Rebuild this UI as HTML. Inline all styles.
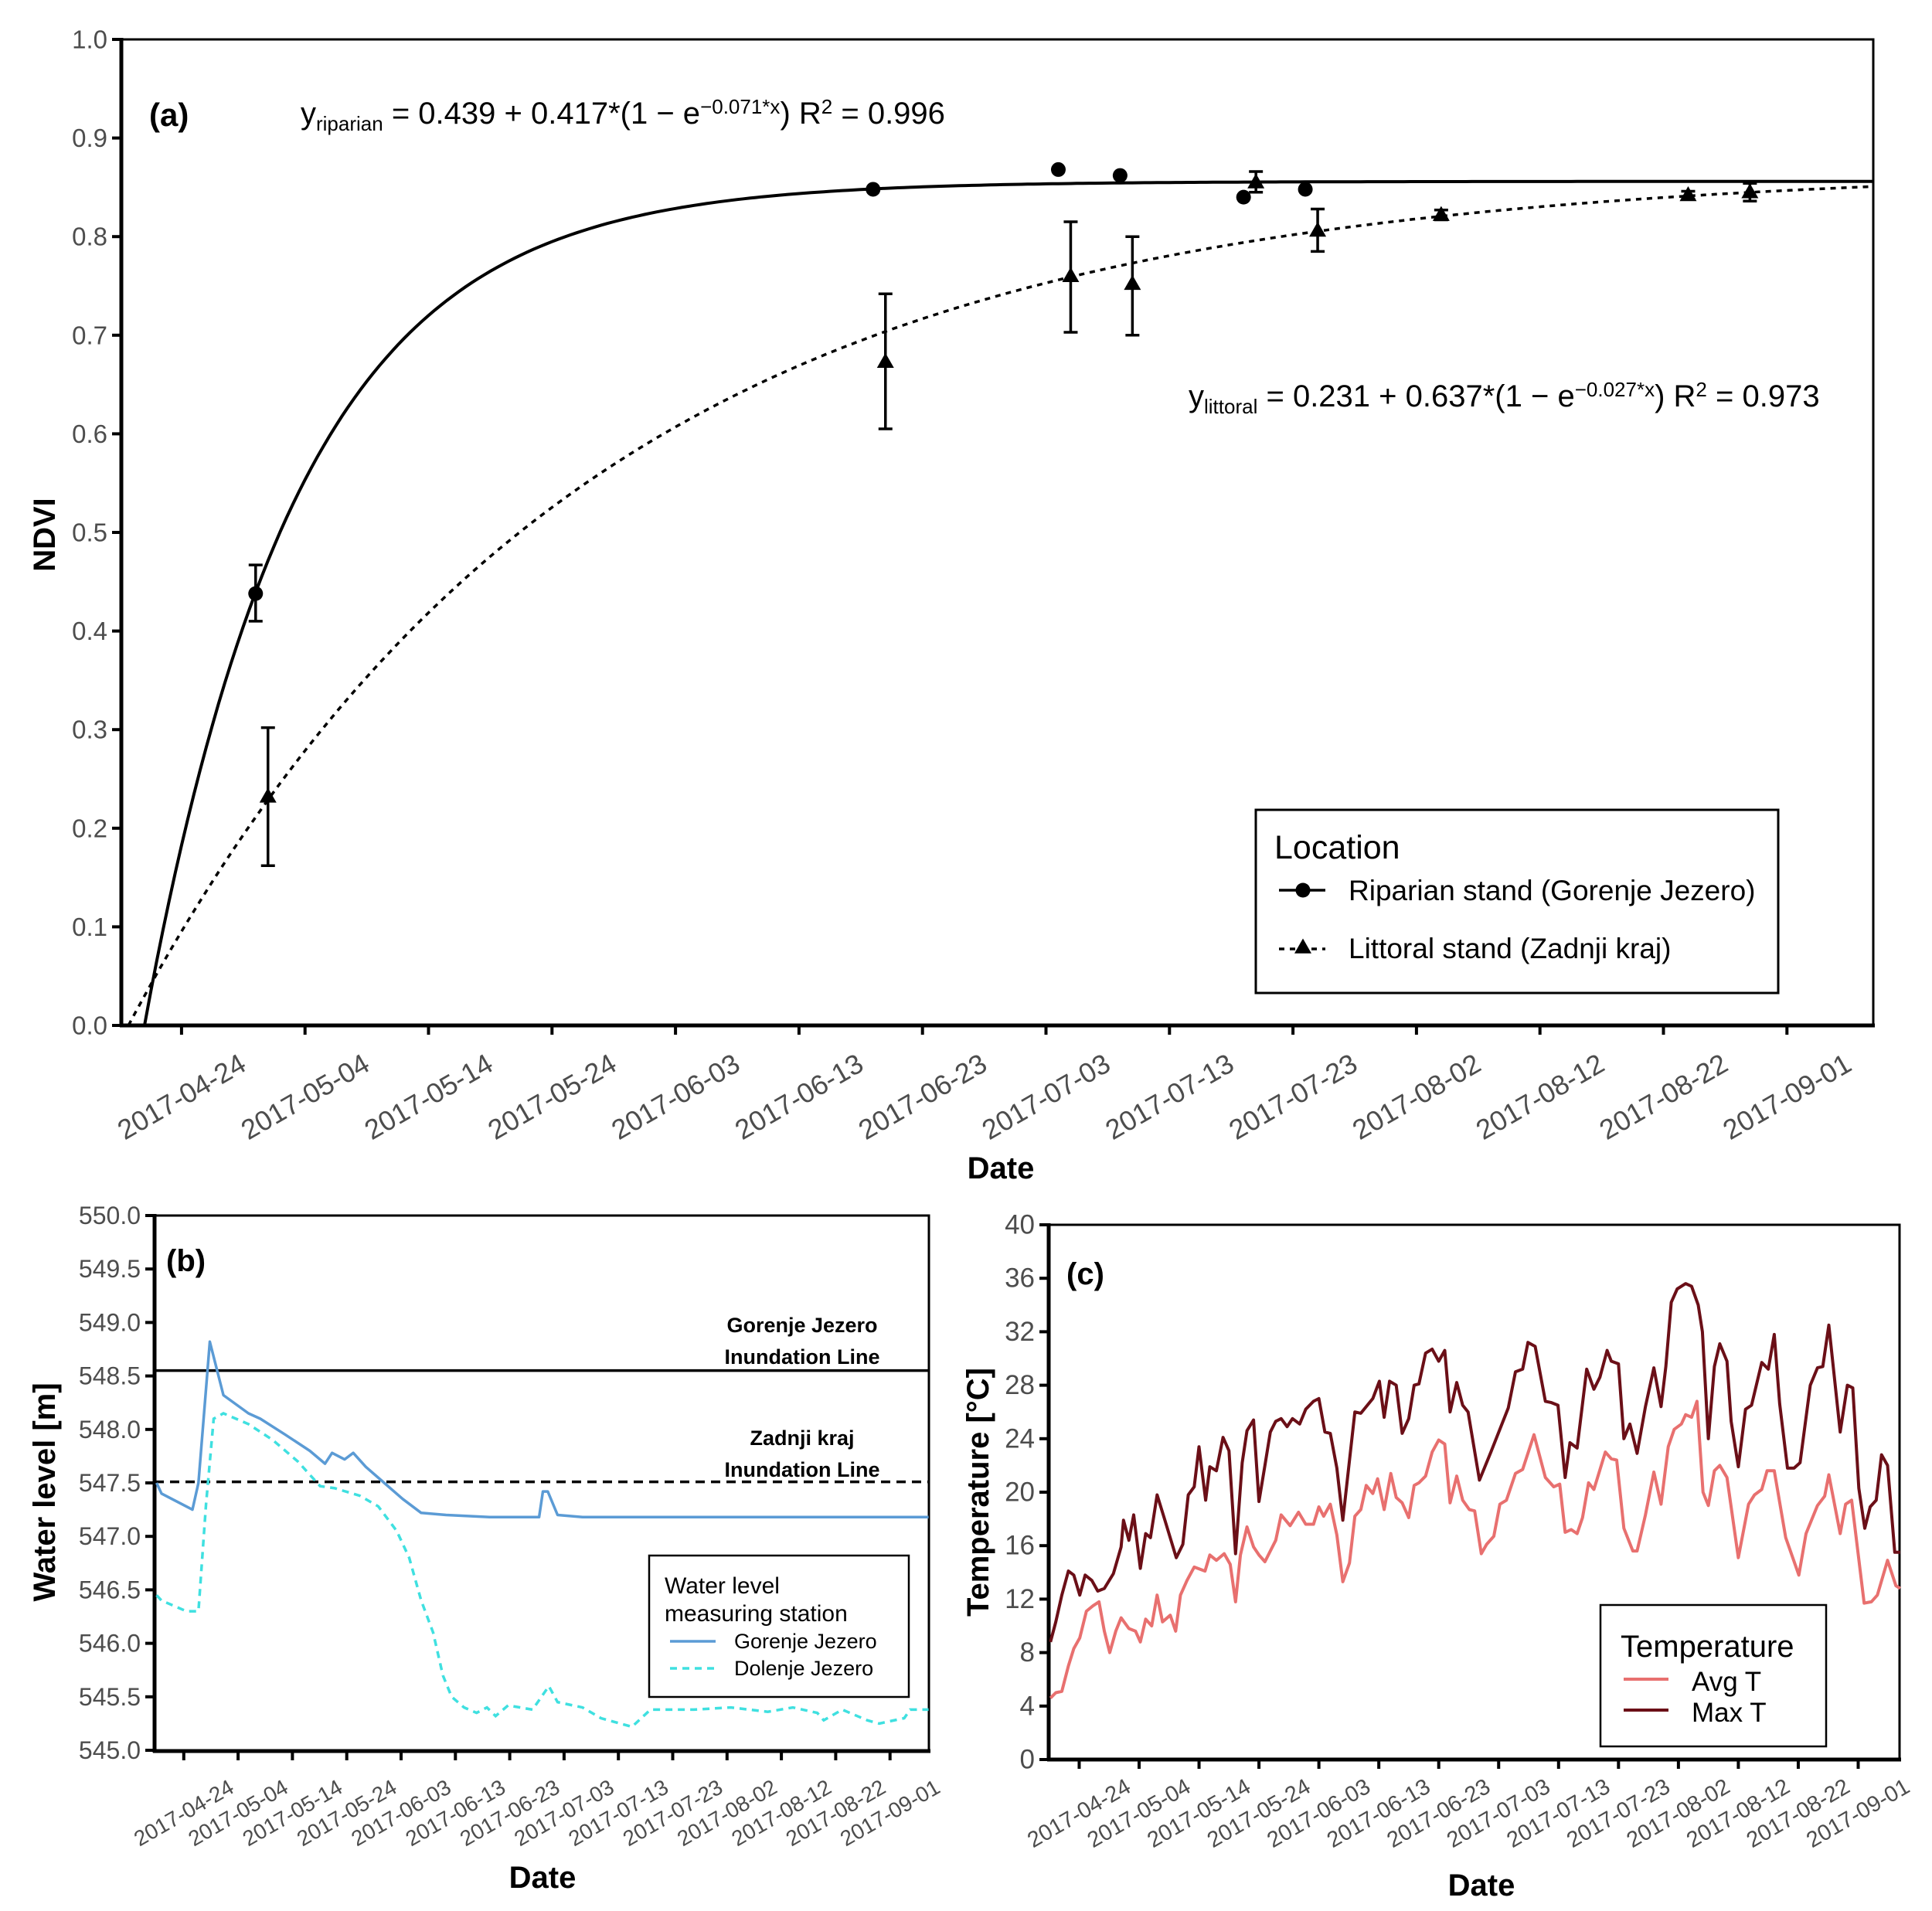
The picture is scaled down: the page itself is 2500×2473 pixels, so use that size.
<!DOCTYPE html>
<html><head><meta charset="utf-8"><title>NDVI, water level and temperature</title>
<style>
html,body{margin:0;padding:0;background:#fff;}
svg{display:block;font-family:"Liberation Sans",Arial,sans-serif;}
.tick{fill:#4d4d4d;}
</style></head>
<body>
<svg id="fig" width="2500" height="2473" viewBox="0 0 2500 2473" xmlns="http://www.w3.org/2000/svg">
<rect width="2500" height="2473" fill="#fff"/>
</svg>
<script>
// ---------- DATA ----------
const dateTicks = ["2017-04-24","2017-05-04","2017-05-14","2017-05-24","2017-06-03","2017-06-13","2017-06-23","2017-07-03","2017-07-13","2017-07-23","2017-08-02","2017-08-12","2017-08-22","2017-09-01"];
const dateTickDays = [5,15,25,35,45,55,65,75,85,95,105,115,125,135]; // days since 2017-04-19
// Panel (a)
const ndviTicks = [0,0.1,0.2,0.3,0.4,0.5,0.6,0.7,0.8,0.9,1.0];
const riparianDays = [11,61,76,81,91,96];
const riparianNdvi = [0.438,0.848,0.868,0.862,0.840,0.848];
const riparianErrLow = [0.410,0.848,0.868,0.862,0.840,0.848];
const riparianErrHigh = [0.467,0.848,0.868,0.862,0.840,0.848];
const littoralDays = [12,62,77,82,92,97,107,127,132];
const littoralNdvi = [0.232,0.673,0.760,0.752,0.855,0.806,0.822,0.842,0.845];
const littoralErrLow = [0.162,0.605,0.703,0.700,0.845,0.785,0.817,0.838,0.836];
const littoralErrHigh = [0.302,0.742,0.815,0.800,0.866,0.828,0.827,0.846,0.854];
const riparianFit = [0.856, 0.080, 2.0];   // asymptote, rate, day offset
const littoralFit = [0.870, 0.027, 0.7];
// Panel (b)
const levelTicks = [545.0,545.5,546.0,546.5,547.0,547.5,548.0,548.5,549.0,549.5,550.0];
const gorenjeSeries = [[0,547.5],[0.9,547.4],[6.6,547.25],[7.7,547.5],[9.8,548.82],[12.3,548.32],[16.9,548.15],[19.1,548.1],[23.7,547.95],[28.2,547.8],[31,547.68],[32.3,547.78],[34.6,547.72],[36.2,547.78],[38.5,547.65],[41.9,547.5],[45.3,547.35],[48.7,547.22],[53.3,547.2],[61.3,547.18],[70.4,547.18],[71.1,547.42],[72,547.42],[73.8,547.2],[78.4,547.18],[142.1,547.18]];
const dolenjeSeries = [[0,546.45],[0.9,546.4],[5.5,546.3],[7.7,546.3],[9.1,547.3],[10.5,548.1],[12.3,548.15],[16.9,548.05],[21.4,547.9],[26,547.7],[30.1,547.47],[32.8,547.45],[37.4,547.38],[40.8,547.28],[44.2,547.05],[46.5,546.8],[48.7,546.4],[50.9,546.1],[52.7,545.7],[54.3,545.5],[56.6,545.4],[58.9,545.35],[60.8,545.4],[62.4,545.32],[64.7,545.42],[69.2,545.38],[72.2,545.6],[73.8,545.45],[78.4,545.4],[81.8,545.3],[87.5,545.22],[90.9,545.38],[98.9,545.38],[105.7,545.4],[112.5,545.36],[117.1,545.4],[121.6,545.35],[122.8,545.28],[126.2,545.38],[130.8,545.28],[133,545.25],[137.6,545.3],[138.7,545.38],[142.1,545.38]];
const inundationLevels = [548.55, 547.51];
// Panel (c)
const tempTicks = [0,4,8,12,16,20,24,28,32,36,40];
const maxTSeries = [[0.2,8.8],[1.1,10.3],[2.1,12.3],[3.2,14.1],[4.1,13.8],[5.1,12.3],[6,13.8],[7.1,13.4],[8.1,12.6],[9.2,12.8],[10.7,13.9],[12,15.9],[12.4,17.9],[13.3,16.4],[14.1,18.3],[15.2,14.3],[16.1,16.9],[16.9,16.6],[18,19.8],[19.3,17.9],[21.2,15.1],[22.3,16.1],[23.2,19.8],[24.2,20.4],[25,23.4],[26.1,19.4],[26.8,21.9],[27.9,21.6],[29,24.1],[30,23.1],[31.1,15.4],[32.2,22.2],[33,24.6],[34.1,25.4],[35,19.3],[36,22],[36.9,24.5],[37.8,25.3],[38.7,25.5],[39.7,24.9],[40.6,25.5],[41.8,25.1],[42.8,26.2],[44.1,26.8],[45,27],[46,24.5],[46.9,24.4],[48,21.8],[49,17.9],[51,26],[52,25.9],[54,27],[55.1,28.3],[55.9,25.6],[56.8,28.3],[57.9,28],[58.9,24.4],[60,25.5],[60.9,28],[61.7,28.1],[62.8,30.4],[63.9,30.7],[65,29.8],[66,30.6],[66.9,26],[68,28.2],[69,26.5],[69.9,26],[71.8,20.9],[73.7,23],[76.6,26.3],[77.8,29],[79,29.2],[79.9,31.2],[81.1,30.9],[82.8,26.8],[83.8,26.7],[84.9,26.5],[86.1,21.1],[86.9,23.7],[88.1,23.3],[89.7,29.2],[90.9,27.7],[91.9,28.6],[93.1,30.6],[93.8,29.8],[95,29.6],[95.9,24],[96.9,25.1],[98.1,22.9],[99.5,26.4],[100.9,29.3],[102.1,26.4],[102.9,29.4],[103.8,34.2],[104.8,35.2],[106.2,35.6],[107.2,35.4],[108.3,34],[109,32],[110,24],[111,29.4],[111.9,31.1],[113.1,29.8],[113.8,25.3],[115,21.9],[116.2,26.2],[117.2,26.5],[118.9,29.7],[120,29.2],[121,31.8],[121.9,26.6],[123.2,21.8],[124.3,21.8],[125.3,22.2],[127,28],[128.2,29.3],[129.1,29.4],[130.1,32.5],[132,24.5],[133.2,28],[134.1,27.8],[135.1,20.3],[136.1,17.3],[137,18.9],[138,19.4],[138.9,22.8],[139.9,22],[141.1,15.5],[142,15.5]];
const avgTSeries = [[0.2,4.6],[1.1,5],[2.1,5.1],[3.2,7],[4.1,8.3],[5.1,9.1],[6.2,11.1],[7.3,11.5],[8.3,11.8],[9.2,9.6],[10.1,8],[11.1,9.6],[12,10.6],[13.3,9.8],[14.4,9.6],[15.2,8.8],[16.1,10.5],[17.1,10],[18,12.3],[18.9,10.3],[20.2,10.8],[21.1,9.6],[21.9,12.3],[23,13.4],[24.2,14.4],[26,14.1],[26.8,15.3],[27.9,14.9],[29.2,15.4],[30.2,14.6],[31.1,11.8],[31.9,15.3],[33,17.4],[34.1,15.9],[35,15.3],[36,14.8],[36.9,15.6],[37.8,16.4],[38.7,18.3],[40.2,17.5],[41.6,18.5],[42.8,17.6],[44.1,17.6],[45,18.9],[45.8,18.2],[46.9,19.1],[48,16.8],[49,13.3],[50.1,14.7],[51,18.2],[52,18.7],[52.9,20.5],[54,19.9],[54.8,21],[55.9,18.7],[57,21.4],[57.9,19.6],[58.9,19.2],[60,18.1],[60.9,20.5],[61.7,20.7],[62.8,21.2],[63.9,23],[65,23.9],[66,23.6],[66.9,19.2],[68,21.2],[69,19.4],[70.1,18.7],[71,18.6],[72.1,15.4],[73,16.1],[74.2,16.7],[75.2,19.1],[76.3,19.4],[77.8,21.4],[79,21.7],[80.9,24.3],[82.8,21.1],[84.2,20.4],[85.2,20.6],[86.1,17],[87.1,17.2],[88.1,16.9],[89,18.1],[90,20.7],[90.9,20.2],[92.8,23],[93.8,22.5],[94.7,22.4],[95.9,17.3],[97.4,15.6],[98.1,15.6],[99.5,18.3],[100.9,21.5],[102.1,19.1],[103.3,23.4],[104.3,24.7],[105.5,25.1],[106.2,25.8],[107.2,25.6],[108.1,26.8],[109.1,20],[110,19],[111,21.6],[111.9,22],[113.1,21.1],[115,15.1],[116.7,19.1],[117.7,19.8],[118.9,20.2],[119.8,21.6],[121,21.6],[122.9,16.6],[125.1,13.8],[126.3,16.9],[128.2,19],[129.4,19.7],[130.1,21.3],[132,16.9],[132.9,19.1],[133.9,19.4],[136,11.7],[137.2,11.8],[138.2,12.3],[139.9,14.9],[141.3,13],[142,12.8]];

// ---------- HELPERS ----------
const NS = "http://www.w3.org/2000/svg";
const svg = document.getElementById('fig');
function mk(tag, attrs, parent) {
  const e = document.createElementNS(NS, tag);
  for (const k in attrs) e.setAttribute(k, attrs[k]);
  (parent || svg).appendChild(e);
  return e;
}
function txt(str, x, y, size, opts, parent) {
  const o = opts || {};
  const t = mk('text', {x: x, y: y, 'font-size': size, fill: o.fill || '#000', 'text-anchor': o.anchor || 'start', 'font-weight': o.weight || 'normal'}, parent);
  if (o.cls) t.setAttribute('class', o.cls);
  if (o.rot !== undefined) t.setAttribute('transform', 'rotate(' + o.rot + ' ' + x + ' ' + y + ')');
  if (o.baseline) t.setAttribute('dominant-baseline', o.baseline);
  t.textContent = str;
  return t;
}
function pathFrom(pts) { return pts.map((p, i) => (i ? 'L' : 'M') + p[0].toFixed(1) + ' ' + p[1].toFixed(1)).join(' '); }

function panel(cfg) {
  const g = mk('g', {});
  
  
  const {L, R, T, B} = cfg;
  const fr = mk('rect', {x: L, y: T, width: R - L, height: B - T, fill: 'none', stroke: '#000', 'stroke-width': cfg.frameW}, g);
  
  
  mk('line', {x1: L, y1: T - 2, x2: L, y2: B + 2, stroke: '#000', 'stroke-width': cfg.axisW}, g);
  mk('line', {x1: L - 2, y1: B, x2: R + 2, y2: B, stroke: '#000', 'stroke-width': cfg.axisW}, g);
  const yg = mk('g', {}, g);
  
  
  cfg.yTicks.forEach(v => {
    const y = cfg.sy(v);
    mk('line', {x1: L - 12, y1: y, x2: L, y2: y, stroke: '#000', 'stroke-width': 4}, yg);
    const t = txt(cfg.yFmt(v), L - 18, y, cfg.yFont, {anchor: 'end', cls: 'tick', baseline: 'central'}, yg);
    
    
  });
  const xg = mk('g', {}, g);
  
  
  dateTickDays.forEach((d, i) => {
    const x = cfg.sx(d);
    mk('line', {x1: x, y1: B, x2: x, y2: B + 12, stroke: '#000', 'stroke-width': 4}, xg);
    const t = txt(dateTicks[i], x, B + cfg.xLabOff, cfg.xFont, {anchor: 'middle', cls: 'tick', baseline: 'central', rot: -30}, xg);
    
    
  });
  return g;
}

// ---------- PANEL (a) ----------
const A = {L: 157, R: 2424, T: 51, B: 1327};
const axA = d => 155 + 15.98 * d;
const ayA = v => 1327 - v * 1276;
const gA = panel({name: 'panel-a-ndvi', L: A.L, R: A.R, T: A.T, B: A.B, frameW: 3, axisW: 5, yTicks: ndviTicks, sy: ayA, yFmt: v => v.toFixed(1), yFont: 33, sx: axA, xLabOff: 92, xFont: 36});
function fitCurve(p, dash, name) {
  const pts = [];
  for (let d = p[2]; d <= 142.1; d += 0.5) {
    const v = p[0] * (1 - Math.exp(-p[1] * (d - p[2])));
    pts.push([axA(d), ayA(v)]);
  }
  const e = mk('path', {d: pathFrom(pts), fill: 'none', stroke: '#000', 'stroke-width': dash ? 3.5 : 4}, gA);
  if (dash) e.setAttribute('stroke-dasharray', '7 7');
  
  
}
fitCurve(riparianFit, false, 'riparian-fit-curve');
fitCurve(littoralFit, true, 'littoral-fit-curve');
function errBars(days, lo, hi, name) {
  days.forEach((d, i) => {
    if (hi[i] - lo[i] < 0.003) return;
    const x = axA(d);
    const e = mk('path', {d: 'M' + x + ' ' + ayA(lo[i]) + 'V' + ayA(hi[i]) + 'M' + (x - 9) + ' ' + ayA(lo[i]) + 'H' + (x + 9) + 'M' + (x - 9) + ' ' + ayA(hi[i]) + 'H' + (x + 9), stroke: '#000', 'stroke-width': 3.5, fill: 'none'}, gA);
    
    
  });
}
errBars(riparianDays, riparianErrLow, riparianErrHigh, 'riparian-error-bar');
errBars(littoralDays, littoralErrLow, littoralErrHigh, 'littoral-error-bar');
riparianDays.forEach((d, i) => {
  const c = mk('circle', {cx: axA(d), cy: ayA(riparianNdvi[i]), r: 9.5, fill: '#000'}, gA);
  
  
});
function tri(x, y, s, parent) {
  return mk('polygon', {points: x + ',' + (y - s * 1.05) + ' ' + (x - s) + ',' + (y + s * 0.7) + ' ' + (x + s) + ',' + (y + s * 0.7), fill: '#000'}, parent);
}
littoralDays.forEach((d, i) => {
  const p = tri(axA(d), ayA(littoralNdvi[i]), 11, gA);
  
  
});
let t;
t = txt('(a)', 193, 163, 42, {weight: 'bold'});  
t = txt('NDVI', 58, 692, 40, {weight: 'bold', anchor: 'middle', rot: -90, baseline: 'central'});  
t = txt('Date', 1295, 1525, 40, {weight: 'bold', anchor: 'middle'});  
function equation(x, y, sub, body, supE, r2, name) {
  const e = mk('text', {x: x, y: y, 'font-size': 40, fill: '#000'});
  
  
  const parts = [['y', 0, 40], [sub, 9, 26], [' = ' + body + '*(1 \u2212 e', -9, 40], [supE, -13, 26], [')  R', 13, 40], ['2', -13, 26], [' = ' + r2, 13, 40]];
  parts.forEach(p => { const s = mk('tspan', {dy: p[1], 'font-size': p[2]}, e); s.textContent = p[0]; });
}
equation(389, 160, 'riparian', '0.439 + 0.417', '\u22120.071*x', '0.996', 'riparian-equation');
equation(1538, 526, 'littoral', '0.231 + 0.637', '\u22120.027*x', '0.973', 'littoral-equation');
const legA = mk('g', {});


mk('rect', {x: 1625, y: 1048, width: 676, height: 237, fill: '#fff', stroke: '#000', 'stroke-width': 3}, legA);
txt('Location', 1649, 1111, 43, {}, legA);
mk('line', {x1: 1655, y1: 1152, x2: 1715, y2: 1152, stroke: '#000', 'stroke-width': 3.5}, legA);
mk('circle', {cx: 1686, cy: 1152, r: 9.5, fill: '#000'}, legA);
t = txt('Riparian stand (Gorenje Jezero)', 1745, 1165, 37, {}, legA);  
mk('line', {x1: 1655, y1: 1228, x2: 1715, y2: 1228, stroke: '#000', 'stroke-width': 3.5, 'stroke-dasharray': '7 7'}, legA);
tri(1686, 1226, 11, legA);
t = txt('Littoral stand (Zadnji kraj)', 1745, 1240, 37, {}, legA);  

// ---------- PANEL (b) ----------
const Bp = {L: 200, R: 1202, T: 1573, B: 2266};
const axB = d => 1151.7 + 7.03 * (d - 135);
const ayB = v => 1573 + (550 - v) * 138.4;
const gB = panel({name: 'panel-b-water-level', L: Bp.L, R: Bp.R, T: Bp.T, B: Bp.B, frameW: 3, axisW: 5, yTicks: levelTicks, sy: ayB, yFmt: v => v.toFixed(1), yFont: 32, sx: axB, xLabOff: 80, xFont: 28});
let e;
e = mk('line', {x1: Bp.L, x2: Bp.R, y1: ayB(inundationLevels[0]), y2: ayB(inundationLevels[0]), stroke: '#000', 'stroke-width': 3.5}, gB);
 
e = mk('line', {x1: Bp.L, x2: Bp.R, y1: ayB(inundationLevels[1]), y2: ayB(inundationLevels[1]), stroke: '#000', 'stroke-width': 3.5, 'stroke-dasharray': '12 8'}, gB);
 
e = mk('path', {d: pathFrom(gorenjeSeries.map(p => [axB(p[0]), ayB(p[1])])), fill: 'none', stroke: '#5b9bd5', 'stroke-width': 3.5, 'stroke-linejoin': 'round'}, gB);
 
e = mk('path', {d: pathFrom(dolenjeSeries.map(p => [axB(p[0]), ayB(p[1])])), fill: 'none', stroke: '#3fe0e0', 'stroke-width': 3.5, 'stroke-dasharray': '9 7'}, gB);
 
t = txt('(b)', 215, 1645, 40, {weight: 'bold'});  
t = txt('Gorenje Jezero', 1038, 1724, 27, {anchor: 'middle', weight: 'bold'});  
txt('Inundation Line', 1038, 1765, 27, {anchor: 'middle', weight: 'bold'});
t = txt('Zadnji kraj', 1038, 1870, 27, {anchor: 'middle', weight: 'bold'});  
txt('Inundation Line', 1038, 1911, 27, {anchor: 'middle', weight: 'bold'});
t = txt('Water level [m]', 58, 1931, 40, {weight: 'bold', anchor: 'middle', rot: -90, baseline: 'central'});  
t = txt('Date', 702, 2443, 40, {weight: 'bold', anchor: 'middle'});  
const legB = mk('g', {});


mk('rect', {x: 840, y: 2013, width: 336, height: 183, fill: '#fff', stroke: '#000', 'stroke-width': 2.5}, legB);
txt('Water level', 860, 2062, 30, {}, legB);
txt('measuring station', 860, 2098, 30, {}, legB);
mk('line', {x1: 867, y1: 2124, x2: 926, y2: 2124, stroke: '#5b9bd5', 'stroke-width': 3.5}, legB);
t = txt('Gorenje Jezero', 950, 2133, 27, {}, legB);  
mk('line', {x1: 867, y1: 2159, x2: 926, y2: 2159, stroke: '#3fe0e0', 'stroke-width': 3.5, 'stroke-dasharray': '9 7'}, legB);
t = txt('Dolenje Jezero', 950, 2168, 27, {}, legB);  

// ---------- PANEL (c) ----------
const Cp = {L: 1357, R: 2458, T: 1585, B: 2277};
const axC = d => 1357.7 + 7.754 * d;
const ayC = v => 2277 - v * 17.3;
const gC = panel({name: 'panel-c-temperature', L: Cp.L, R: Cp.R, T: Cp.T, B: Cp.B, frameW: 3, axisW: 5, yTicks: tempTicks, sy: ayC, yFmt: v => String(v), yFont: 35, sx: axC, xLabOff: 70, xFont: 29});
e = mk('path', {d: pathFrom(maxTSeries.map(p => [axC(p[0]), ayC(p[1])])), fill: 'none', stroke: '#6b0f17', 'stroke-width': 4, 'stroke-linejoin': 'round'}, gC);
 
e = mk('path', {d: pathFrom(avgTSeries.map(p => [axC(p[0]), ayC(p[1])])), fill: 'none', stroke: '#e8706f', 'stroke-width': 4, 'stroke-linejoin': 'round'}, gC);
 
t = txt('(c)', 1380, 1662, 40, {weight: 'bold'});  
t = txt('Temperature [\u00B0C]', 1266, 1931, 40, {weight: 'bold', anchor: 'middle', rot: -90, baseline: 'central'});  
t = txt('Date', 1917, 2453, 40, {weight: 'bold', anchor: 'middle'});  
const legC = mk('g', {});


mk('rect', {x: 2071, y: 2077, width: 292, height: 183, fill: '#fff', stroke: '#000', 'stroke-width': 2.5}, legC);
txt('Temperature', 2097, 2144, 40, {}, legC);
mk('line', {x1: 2101, y1: 2173, x2: 2159, y2: 2173, stroke: '#e8706f', 'stroke-width': 4}, legC);
t = txt('Avg T', 2189, 2188, 35, {}, legC);  
mk('line', {x1: 2101, y1: 2213, x2: 2159, y2: 2213, stroke: '#6b0f17', 'stroke-width': 4}, legC);
t = txt('Max T', 2189, 2228, 35, {}, legC);  
</script>
</body></html>
